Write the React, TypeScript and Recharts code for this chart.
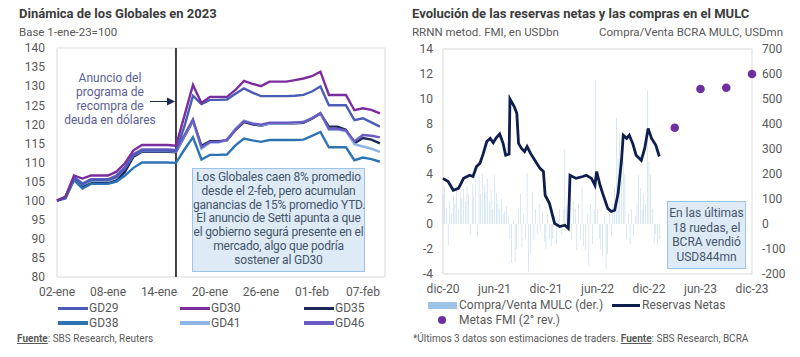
import React from "react";
import {
  LineChart,
  Line,
  XAxis,
  YAxis,
  ReferenceLine,
  ReferenceArea,
  ComposedChart,
  Bar,
  Scatter,
} from "recharts";

// ---- left chart: Globales, base 1-ene-23 = 100, one value per calendar day from 02-ene
const dayTicks = [0, 6, 12, 18, 24, 30, 36];
const dayTickLabels = ["02-ene", "08-ene", "14-ene", "20-ene", "26-ene", "01-feb", "07-feb"];
const announceDay = 14;

const gd29 = [100, 101, 106, 104.3, 105.4, 105.4, 105.4, 106.2, 108.4, 111.8, 113.1, 113.1, 113.1, 113.1, 113.0, 119.5, 127.5, 125.3, 126.4, 126.4, 126.5, 128.0, 129.4, 128.3, 127.4, 127.4, 127.4, 127.4, 127.5, 127.7, 128.6, 129.9, 125.0, 125.0, 125.0, 121.1, 121.6, 120.5, 119.4];
const gd30 = [100, 101, 106.6, 105.8, 106.6, 106.6, 106.6, 107.6, 109.8, 113.2, 114.6, 114.6, 114.6, 114.6, 114.4, 122.3, 130.3, 125.6, 127.2, 127.2, 127.2, 129.0, 131.4, 130.6, 130.0, 131.2, 131.2, 131.2, 131.6, 132.0, 132.6, 133.8, 127.7, 127.7, 127.7, 123.7, 124.2, 123.8, 122.9];
const gd35 = [100, 100.8, 105.6, 103.6, 104.6, 104.6, 104.6, 105.3, 107.6, 111.5, 112.8, 112.8, 112.8, 112.8, 112.7, 116.8, 120.9, 114.4, 115.6, 115.6, 115.8, 118.5, 120.6, 120.0, 119.6, 120.2, 120.2, 120.2, 120.3, 120.4, 121.5, 122.8, 119.4, 119.4, 118.6, 115.0, 116.4, 116.0, 115.0];
const gd38 = [100, 100.6, 105.4, 103.2, 104.4, 104.4, 104.4, 105.0, 106.6, 108.6, 110.0, 110.0, 110.0, 110.0, 109.9, 113.4, 116.6, 110.8, 112.0, 112.0, 112.1, 114.5, 116.3, 115.8, 115.4, 115.9, 115.9, 115.9, 115.9, 116.0, 117.0, 118.0, 114.0, 114.0, 114.0, 110.6, 111.3, 110.9, 110.2];
const gd41 = [100, 100.9, 106.0, 104.2, 105.2, 105.2, 105.2, 106.0, 108.6, 112.0, 113.0, 113.0, 113.0, 113.0, 112.9, 117.0, 121.0, 113.6, 115.2, 115.2, 115.9, 118.8, 121.0, 120.3, 119.7, 120.2, 120.2, 120.2, 120.4, 120.6, 121.7, 122.9, 118.6, 118.6, 118.2, 114.8, 114.2, 113.6, 112.8];
const gd46 = [100, 101, 106.2, 104.5, 105.6, 105.6, 105.6, 106.6, 108.8, 112.2, 113.4, 113.4, 113.4, 113.4, 113.3, 117.2, 121.3, 114.0, 115.4, 115.4, 116.0, 118.6, 120.8, 120.2, 119.9, 120.4, 120.4, 120.4, 120.5, 120.6, 121.6, 123.0, 118.8, 118.8, 118.4, 115.6, 117.2, 117.0, 116.6];

const bondNames = ["GD29", "GD30", "GD35", "GD38", "GD41", "GD46"];
const bondColors = ["#4A5CB6", "#7A2E9E", "#1C2957", "#2E74B5", "#8EB4E3", "#6B5CC4"];
const bondSeries = [gd29, gd30, gd35, gd38, gd41, gd46];
const drawOrder = ["GD35", "GD41", "GD46", "GD38", "GD29", "GD30"];

const leftTicks = [80, 85, 90, 95, 100, 105, 110, 115, 120, 125, 130, 135, 140];

// ---- right chart: months since dic-20
const monthTicks = [0, 6, 12, 18, 24, 30, 36];
const monthTickLabels = ["dic-20", "jun-21", "dic-21", "jun-22", "dic-22", "jun-23", "dic-23"];

// reservas netas (USDbn)
const resMonth = [0, 0.6, 1.2, 1.8, 2.4, 3.1, 3.5, 3.9, 4.3, 4.7, 5.1, 5.5, 5.85, 6.2, 6.6, 7.0, 7.3, 7.7, 7.8, 8.3, 8.6, 8.8, 9.15, 9.5, 9.8, 10.2, 10.7, 11.3, 11.7, 11.9, 12.4, 13.0, 13.6, 14.2, 14.6, 14.8, 15.5, 16.3, 16.7, 17.3, 17.7, 17.9, 18.3, 18.6, 19.2, 19.6, 20.0, 20.4, 20.8, 21.0, 21.4, 21.7, 22.1, 22.5, 23.1, 23.5, 23.9, 24.3, 24.8, 25.2];
const resValue = [3.65, 3.4, 2.7, 2.85, 3.65, 3.9, 3.8, 4.6, 4.85, 5.65, 6.6, 6.85, 6.5, 6.9, 7.2, 6.45, 5.5, 5.6, 10.0, 9.4, 8.85, 6.45, 6.05, 5.8, 6.2, 5.65, 5.1, 4.45, 4.2, 2.3, 1.65, 0.05, -0.2, -0.1, -0.35, 3.9, 3.65, 3.8, 3.9, 3.65, 3.1, 4.2, 3.1, 2.45, 1.25, 1.0, 1.1, 2.45, 5.1, 7.1, 6.85, 7.1, 6.45, 5.5, 5.1, 6.05, 7.65, 6.85, 6.3, 5.4];

// compra/venta MULC (USDmn), one bar every ~6 days from dic-20
const mulcStep = 0.2;
const mulcValue = [
  120, 150, 60, -85, 90, 40,
  110, 80, 150, 60, 130, 100, 140,
  90, 150, 120, -40, 160, 110, 180,
  -52, 190, 120, 200, 150, 130,
  180, 90, 140, 60, 195,
  120, 80, 60, 100, 40, 50, 70,
  30, -60, -156, 20, -150, -100, 60,
  123, -92, 40, -60, 204, -190,
  -120, 130, -64, 60, -40,
  80, -30, 50, -70, -100, 40, -60,
  -90, -60, 30, -80, 20, 60, -40,
  60, 296, 70, 120, 40, -60,
  90, 60, -104, 80, -60, 150, -90,
  -104, 40, -170, 80, -80, 60, 576,
  60, -60, -100, -130, 30, -184,
  -120, 40, -50, 80, 150, 423, 260, 364, 300, 250, 200,
  -60, 40, -80, 60, -50, 30, 80, 196, 144, 60, 120, 80,
  536,
  250, 196, 60, -77, -40, -84, -60,
];

// metas FMI (2° rev.), USDbn
const metaMonth = [27, 30, 33, 36];
const metaValue = [7.7, 10.8, 10.9, 12.0];

const resTicksL = [-4, -2, 0, 2, 4, 6, 8, 10, 12, 14];
const resTicksR = [-200, -100, 0, 100, 200, 300, 400, 500, 600, 700];

const leftData = gd30.map((_, i) => {
  const row: any = { d: i };
  bondNames.forEach((n, k) => (row[n] = bondSeries[k][i]));
  return row;
});

const rightData: any[] = [
  ...mulcValue.map((v, i) => ({ m: +(i * mulcStep).toFixed(2), mulc: v })),
  ...resMonth.map((m, i) => ({ m, res: resValue[i] })),
];
const metaData = metaMonth.map((m, i) => ({ m, meta: metaValue[i] }));

const gray = "#595959";
const tickStyle = { fill: gray, fontSize: 12 };

export default function App() {
  return (
    <div
      style={{
        position: "absolute",
        left: 0,
        top: 0,
        width: 800,
        height: 357,
        background: "#fff",
        fontFamily: "Roboto, sans-serif",
        color: gray,
        overflow: "hidden",
      }}
    >
      {/* titles */}
      <div style={{ position: "absolute", left: 19, top: 6, fontSize: 13, fontWeight: 700, color: "#3b3b3b" }}>
        Dinámica de los Globales en 2023
      </div>
      <div style={{ position: "absolute", left: 19, top: 25, fontSize: 11.5 }}>Base 1-ene-23=100</div>
      <div style={{ position: "absolute", left: 412, top: 6, fontSize: 13, fontWeight: 700, color: "#3b3b3b" }}>
        Evolución de las reservas netas y las compras en el MULC
      </div>
      <div style={{ position: "absolute", left: 412, top: 25, fontSize: 11.5 }}>RRNN metod. FMI, en USDbn</div>
      <div style={{ position: "absolute", right: 17, top: 25, fontSize: 11.5 }}>Compra/Venta BCRA MULC, USDmn</div>

      {/* left chart */}
      <div style={{ position: "absolute", left: 0, top: 0 }}>
        <LineChart width={400} height={300} data={leftData} margin={{ top: 48, right: 15, bottom: 0, left: 0 }}>
          <XAxis
            dataKey="d"
            type="number"
            domain={[0, 38.6]}
            ticks={dayTicks}
            tickFormatter={(v: number) => dayTickLabels[dayTicks.indexOf(v)]}
            axisLine={false}
            tickLine={false}
            tickSize={0}
            tickMargin={10}
            height={23}
            tick={tickStyle}
            interval={0}
          />
          <YAxis
            domain={[80, 140]}
            ticks={leftTicks}
            axisLine={false}
            tickLine={false}
            tickSize={0}
            tickMargin={12}
            width={57}
            tick={tickStyle}
            interval={0}
          />
          <ReferenceArea x1={0} x2={38.6} y1={80} y2={140} fill="none" stroke="#D9D9D9" strokeWidth={1} />
          <ReferenceLine x={announceDay} stroke="#3F3F3F" strokeWidth={2} />
          {drawOrder.map((n) => (
            <Line
              key={n}
              dataKey={n}
              stroke={bondColors[bondNames.indexOf(n)]}
              strokeWidth={2.4}
              dot={false}
              type="linear"
              isAnimationActive={false}
            />
          ))}
        </LineChart>
      </div>

      {/* left annotations */}
      <div
        style={{
          position: "absolute",
          left: 50,
          top: 72,
          width: 120,
          textAlign: "center",
          fontSize: 12,
          lineHeight: "13.9px",
          color: "#5B5E96",
        }}
      >
        Anuncio del
        <br />
        programa de
        <br />
        recompra de
        <br />
        deuda en dólares
      </div>
      <svg style={{ position: "absolute", left: 0, top: 0 }} width={400} height={300}>
        <line x1={150} y1={101.5} x2={168} y2={101.5} stroke="#1C2957" strokeWidth={1} />
        <polygon points="167,97.5 175,101.5 167,105.5" fill="#1C2957" />
      </svg>
      <div
        style={{
          position: "absolute",
          left: 192,
          top: 168,
          width: 171,
          height: 100,
          background: "#DEEBF7",
          border: "1px solid #9DC3E6",
          textAlign: "center",
          fontSize: 12,
          lineHeight: "13.8px",
          paddingTop: 2,
          boxSizing: "content-box",
          color: "#44546A",
          whiteSpace: "nowrap",
          letterSpacing: -0.2,
        }}
      >
        Los Globales caen 8% promedio
        <br />
        desde el 2-feb, pero acumulan
        <br />
        ganancias de 15% promedio YTD.
        <br />
        El anuncio de Setti apunta a que
        <br />
        el gobierno segurá presente en el
        <br />
        mercado, algo que podría
        <br />
        sostener al GD30
      </div>

      {/* left legend */}
      {bondNames.map((n, k) => {
        const col = k % 3;
        const row = Math.floor(k / 3);
        const x = [58, 180, 304][col];
        const y = [308, 322.5][row];
        return (
          <div key={n}>
            <div
              style={{ position: "absolute", left: x, top: y - 1.5, width: 30, height: 3.5, background: bondColors[k] }}
            />
            <div style={{ position: "absolute", left: x + 31, top: y - 8, fontSize: 12, lineHeight: "16px" }}>{n}</div>
          </div>
        );
      })}
      <div style={{ position: "absolute", left: 17, top: 333, fontSize: 10 }}>
        <span style={{ fontWeight: 700, textDecoration: "underline" }}>Fuente</span>: SBS Research, Reuters
      </div>

      {/* right chart */}
      <div style={{ position: "absolute", left: 400, top: 0 }}>
        <ComposedChart width={400} height={300} data={rightData} margin={{ top: 49, right: 0, bottom: 0, left: 0 }}>
          <XAxis
            dataKey="m"
            type="number"
            domain={[0, 36]}
            ticks={monthTicks}
            tickFormatter={(v: number) => monthTickLabels[monthTicks.indexOf(v)]}
            axisLine={false}
            tickLine={false}
            tickSize={0}
            tickMargin={10}
            height={26}
            tick={tickStyle}
            interval={0}
          />
          <YAxis
            yAxisId="l"
            domain={[-4, 14]}
            ticks={resTicksL}
            axisLine={false}
            tickLine={false}
            tickSize={0}
            tickMargin={10}
            width={43}
            tick={tickStyle}
            interval={0}
          />
          <YAxis
            yAxisId="r"
            orientation="right"
            domain={[-200, 700]}
            ticks={resTicksR}
            axisLine={false}
            tickLine={false}
            tickSize={0}
            tickMargin={10}
            width={48}
            tick={tickStyle}
            interval={0}
          />
          <ReferenceArea yAxisId="l" x1={0} x2={36} y1={-4} y2={14} fill="none" stroke="#D9D9D9" strokeWidth={1} />
          <Bar yAxisId="r" dataKey="mulc" fill="#9DC3E6" barSize={2} isAnimationActive={false} />
          <Line
            yAxisId="l"
            dataKey="res"
            stroke="#0E1E4E"
            strokeWidth={2.8}
            dot={false}
            connectNulls
            type="linear"
            isAnimationActive={false}
          />
          <Scatter
            yAxisId="l"
            data={metaData}
            dataKey="meta"
            fill="#7030A0"
            isAnimationActive={false}
            shape={(p: any) => <circle cx={p.cx} cy={p.cy} r={4.3} fill="#7030A0" />}
          />
        </ComposedChart>
      </div>

      {/* right annotation box */}
      <div
        style={{
          position: "absolute",
          left: 667,
          top: 201,
          width: 77,
          height: 62,
          paddingTop: 4,
          background: "#DEEBF7",
          border: "1px solid #9DC3E6",
          textAlign: "center",
          fontSize: 12,
          lineHeight: "14.7px",
          color: "#44546A",
          whiteSpace: "nowrap",
        }}
      >
        En las últimas
        <br />
        18 ruedas, el
        <br />
        BCRA vendió
        <br />
        USD844mn
      </div>

      {/* right legend */}
      <div style={{ position: "absolute", left: 428, top: 302, width: 29, height: 6.5, background: "#9DC3E6" }} />
      <div style={{ position: "absolute", left: 459, top: 297, fontSize: 12, lineHeight: "16px" }}>
        Compra/Venta MULC (der.)
      </div>
      <div style={{ position: "absolute", left: 612, top: 303.5, width: 28, height: 3, background: "#0E1E4E" }} />
      <div style={{ position: "absolute", left: 642, top: 297, fontSize: 12, lineHeight: "16px" }}>Reservas Netas</div>
      <div
        style={{ position: "absolute", left: 438, top: 316, width: 8, height: 8, borderRadius: 4, background: "#7030A0" }}
      />
      <div style={{ position: "absolute", left: 459, top: 312, fontSize: 12, lineHeight: "16px" }}>Metas FMI (2° rev.)</div>
      <div style={{ position: "absolute", left: 413, top: 333, fontSize: 10 }}>
        *Últimos 3 datos son estimaciones de traders.{" "}
        <span style={{ fontWeight: 700, textDecoration: "underline" }}>Fuente</span>: SBS Research, BCRA
      </div>
    </div>
  );
}
